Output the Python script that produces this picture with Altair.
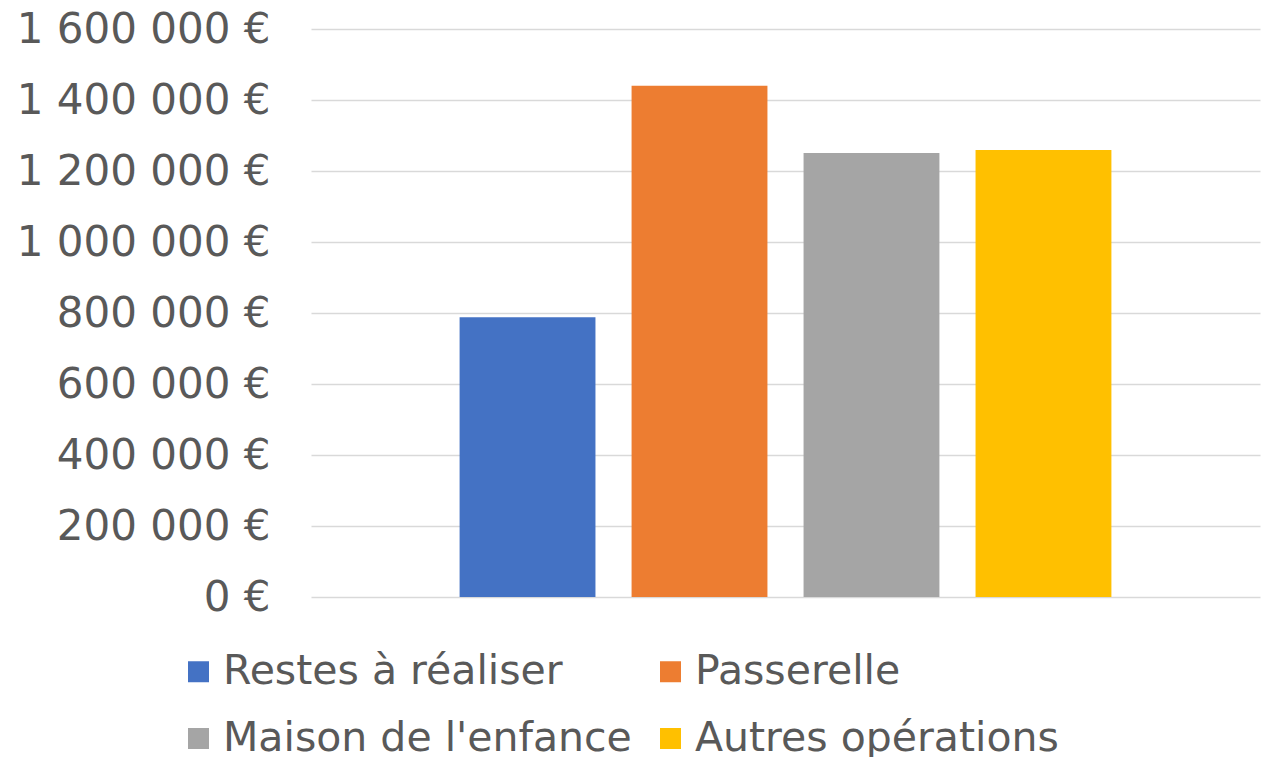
import altair as alt
import pandas as pd

series = ["Restes à réaliser", "Passerelle", "Maison de l'enfance", "Autres opérations"]
values = [788000, 1440000, 1251000, 1259000]
colors = ["#4472C4", "#ED7D31", "#A5A5A5", "#FFC000"]
y_ticks = [0, 200000, 400000, 600000, 800000, 1000000, 1200000, 1400000, 1600000]

df = pd.DataFrame({"serie": series, "valeur": values})

FONT = "DejaVu Sans"
TXT = "#595959"

chart = alt.Chart(df).mark_bar().encode(
    x=alt.X("serie:N", sort=series, axis=None,
            scale=alt.Scale(paddingInner=0.21, paddingOuter=0.864)),
    y=alt.Y("valeur:Q",
            scale=alt.Scale(domain=[0, 1600000], nice=False),
            axis=alt.Axis(values=y_ticks, title=None, domain=False, ticks=False,
                          labelFont=FONT, labelFontSize=42, labelColor=TXT,
                          labelPadding=41, labelLimit=0, gridColor="#D9D9D9", gridWidth=1.5,
                          labelExpr="replace(format(datum.value, ','), /,/g, ' ') + ' €'")),
    color=alt.Color("serie:N", sort=series,
                    scale=alt.Scale(domain=series, range=colors),
                    legend=alt.Legend(title=None, orient="none", legendX=-133, legendY=622,
                                      columns=2, direction="horizontal", padding=0,
                                      symbolType="square", symbolSize=441, symbolStrokeWidth=0,
                                      labelFont=FONT, labelFontSize=41, labelColor=TXT,
                                      labelOffset=4, labelLimit=0, columnPadding=18,
                                      rowPadding=25)),
).properties(
    width=949, height=568,
    autosize=alt.AutoSizeParams(type="none"),
    padding={"left": 303, "top": 21, "right": 5, "bottom": 160},
).configure_view(stroke=None)

chart.save("out.html", embed_options={"renderer": "svg", "actions": False})
